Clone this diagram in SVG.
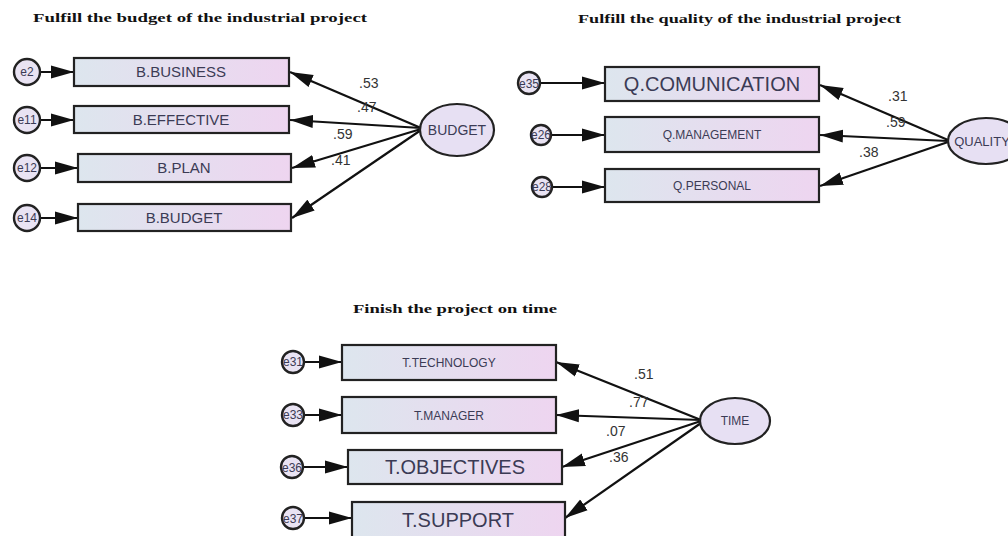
<svg xmlns="http://www.w3.org/2000/svg" width="1008" height="536" viewBox="0 0 1008 536">
<defs>
<linearGradient id="boxg" x1="0" y1="0" x2="1" y2="0">
<stop offset="0" stop-color="#dde6ee"/>
<stop offset="1" stop-color="#eed5f0"/>
</linearGradient>
<marker id="ah" markerUnits="userSpaceOnUse" markerWidth="24" markerHeight="14" refX="23" refY="7" orient="auto">
<path d="M0,0.5 L23,7 L0,13.5 z" fill="#111"/>
</marker>
<style>
.box{fill:url(#boxg);stroke:#222;stroke-width:2.2}
.lat{fill:#e7e0f3;stroke:#222;stroke-width:2.2}
.err{fill:#e9e3f3;stroke:#222;stroke-width:2.4}
.lbl{font-family:"Liberation Sans",Arial,sans-serif;fill:#3b3b55;text-anchor:middle}
.etx{font-family:"Liberation Sans",Arial,sans-serif;fill:#3b3b55;text-anchor:middle;font-size:12px}
.ttl{font-family:"Liberation Serif","Times New Roman",serif;font-weight:bold;font-size:13px;fill:#111}
.coef{font-family:"Liberation Sans",Arial,sans-serif;font-size:14px;fill:#333}
.con{stroke:#111;stroke-width:2.2;fill:none;marker-end:url(#ah)}
</style>
</defs>
<rect width="1008" height="536" fill="#ffffff"/>

<text class="ttl" x="33" y="22" textLength="334" lengthAdjust="spacingAndGlyphs">Fulfill  the budget of the industrial project</text>
<text class="ttl" x="578" y="23" textLength="323" lengthAdjust="spacingAndGlyphs">Fulfill  the quality of the industrial project</text>
<text class="ttl" x="353" y="313" textLength="204" lengthAdjust="spacingAndGlyphs">Finish  the project on time</text>

<g id="connectors">
<line class="con" x1="40" y1="72" x2="74" y2="72"/>
<line class="con" x1="40" y1="120" x2="74" y2="120"/>
<line class="con" x1="40" y1="168" x2="78" y2="168"/>
<line class="con" x1="40" y1="218" x2="78" y2="218"/>
<line class="con" x1="421" y1="128" x2="290" y2="72"/>
<line class="con" x1="421" y1="128" x2="290" y2="120"/>
<line class="con" x1="421" y1="129" x2="292" y2="168"/>
<line class="con" x1="421" y1="130" x2="292" y2="218"/>
<line class="con" x1="540" y1="83" x2="605" y2="83"/>
<line class="con" x1="551" y1="135" x2="605" y2="135"/>
<line class="con" x1="552" y1="187" x2="605" y2="187"/>
<line class="con" x1="948" y1="140" x2="820" y2="85"/>
<line class="con" x1="948" y1="141" x2="820" y2="135"/>
<line class="con" x1="948" y1="142" x2="820" y2="186"/>
<line class="con" x1="304" y1="362" x2="342" y2="362"/>
<line class="con" x1="304" y1="415" x2="342" y2="415"/>
<line class="con" x1="304" y1="467" x2="348" y2="467"/>
<line class="con" x1="305" y1="518" x2="352" y2="518"/>
<line class="con" x1="701" y1="420" x2="556" y2="362"/>
<line class="con" x1="701" y1="420" x2="556" y2="415"/>
<line class="con" x1="701" y1="421" x2="562" y2="467"/>
<line class="con" x1="701" y1="423" x2="565" y2="518"/>
<text class="coef" x="359" y="88">.53</text>
<text class="coef" x="357" y="112">.47</text>
<text class="coef" x="333" y="139">.59</text>
<text class="coef" x="331" y="165">.41</text>
<text class="coef" x="888" y="101">.31</text>
<text class="coef" x="886" y="127">.59</text>
<text class="coef" x="859" y="157">.38</text>
<text class="coef" x="634" y="379">.51</text>
<text class="coef" x="629" y="407">.77</text>
<text class="coef" x="606" y="436">.07</text>
<text class="coef" x="609" y="462">.36</text>
</g>

<g id="budget-section">
<g id="n-budget"><ellipse class="lat" cx="457" cy="130" rx="37" ry="26"/><text class="lbl" x="457" y="135" font-size="14">BUDGET</text></g>
<g id="n-b-business"><rect class="box" x="74" y="58" width="215" height="28"/><text class="lbl" x="181" y="77" font-size="15">B.BUSINESS</text></g>
<g id="n-b-effective"><rect class="box" x="74" y="106" width="215" height="27"/><text class="lbl" x="181" y="125" font-size="15">B.EFFECTIVE</text></g>
<g id="n-b-plan"><rect class="box" x="78" y="154" width="213" height="28"/><text class="lbl" x="184" y="173" font-size="15">B.PLAN</text></g>
<g id="n-b-budget"><rect class="box" x="78" y="204" width="213" height="27"/><text class="lbl" x="184" y="223" font-size="15">B.BUDGET</text></g>
<g id="n-e2"><circle class="err" cx="27" cy="72" r="13"/><text class="etx" x="27" y="76">e2</text></g>
<g id="n-e11"><circle class="err" cx="27" cy="120" r="13"/><text class="etx" x="27" y="124">e11</text></g>
<g id="n-e12"><circle class="err" cx="27" cy="168" r="13"/><text class="etx" x="27" y="172">e12</text></g>
<g id="n-e14"><circle class="err" cx="27" cy="218" r="13"/><text class="etx" x="27" y="222">e14</text></g>
</g>

<g id="quality-section">
<g id="n-quality"><ellipse class="lat" cx="986" cy="141" rx="38" ry="23"/><text class="lbl" x="982" y="146" font-size="13">QUALITY</text></g>
<g id="n-q-comunication"><rect class="box" x="605" y="67" width="214" height="34"/><text class="lbl" x="712" y="91" font-size="20">Q.COMUNICATION</text></g>
<g id="n-q-management"><rect class="box" x="605" y="117" width="214" height="35"/><text class="lbl" x="712" y="139" font-size="12">Q.MANAGEMENT</text></g>
<g id="n-q-personal"><rect class="box" x="605" y="169" width="214" height="33"/><text class="lbl" x="712" y="190" font-size="12">Q.PERSONAL</text></g>
<g id="n-e35"><circle class="err" cx="529" cy="83" r="11"/><text class="etx" x="529" y="88" font-size="14">e35</text></g>
<g id="n-e26"><circle class="err" cx="541" cy="135" r="10"/><text class="etx" x="541" y="139" font-size="11">e26</text></g>
<g id="n-e28"><circle class="err" cx="542" cy="187" r="10"/><text class="etx" x="542" y="191" font-size="11">e28</text></g>
</g>

<g id="time-section">
<g id="n-time"><ellipse class="lat" cx="735" cy="421" rx="35" ry="23"/><text class="lbl" x="735" y="425" font-size="12">TIME</text></g>
<g id="n-t-technology"><rect class="box" x="342" y="345" width="214" height="35"/><text class="lbl" x="449" y="367" font-size="12">T.TECHNOLOGY</text></g>
<g id="n-t-manager"><rect class="box" x="342" y="397" width="214" height="36"/><text class="lbl" x="449" y="420" font-size="12">T.MANAGER</text></g>
<g id="n-t-objectives"><rect class="box" x="348" y="450" width="214" height="34"/><text class="lbl" x="455" y="474" font-size="20">T.OBJECTIVES</text></g>
<g id="n-t-support"><rect class="box" x="352" y="502" width="213" height="36"/><text class="lbl" x="458" y="527" font-size="20">T.SUPPORT</text></g>
<g id="n-e31"><circle class="err" cx="293" cy="362" r="11"/><text class="etx" x="293" y="366" font-size="11">e31</text></g>
<g id="n-e33"><circle class="err" cx="293" cy="415" r="11"/><text class="etx" x="293" y="419" font-size="11">e33</text></g>
<g id="n-e36"><circle class="err" cx="292" cy="467" r="11"/><text class="etx" x="292" y="472" font-size="14">e36</text></g>
<g id="n-e37"><circle class="err" cx="293" cy="518" r="11"/><text class="etx" x="293" y="523" font-size="14">e37</text></g>
</g>
</svg>
